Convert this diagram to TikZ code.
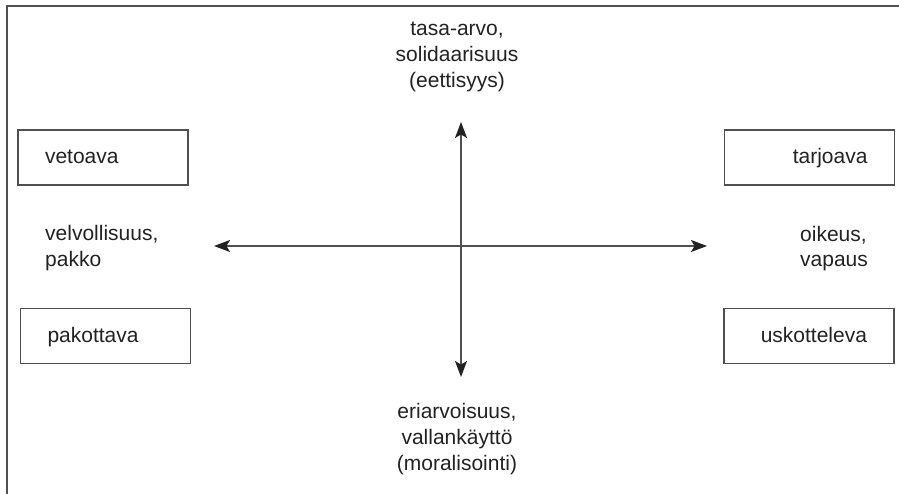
\documentclass[tikz,border=0pt]{standalone}
\usepackage{fontspec}
\setmainfont{Liberation Sans}
\usetikzlibrary{arrows.meta}
\definecolor{linegray}{HTML}{505050}
\definecolor{inkgray}{HTML}{222222}
\begin{document}
\begin{tikzpicture}[x=1pt,y=-1pt,
  every node/.style={font=\fontsize{21}{25}\selectfont, text=inkgray},
  stylebox/.style={draw=linegray, line width=1.3pt, minimum height=55pt,
    text width=116pt, inner xsep=27pt, inner ysep=0pt,
    text height=15pt, text depth=3pt},
  axis/.style={draw=linegray, line width=1.3pt,
    {Stealth[length=16pt,width=12pt,inset=3.5pt,color=inkgray]}-{Stealth[length=16pt,width=12pt,inset=3.5pt,color=inkgray]}},
  pole/.style={align=center, inner sep=0pt, font=\fontsize{21}{26}\selectfont},
  side/.style={align=left, inner sep=0pt, font=\fontsize{21}{25}\selectfont}]
  \useasboundingbox (0,0) rectangle (899,494);
  % outer frame
  \draw[linegray, line width=1.5pt] (7,494) -- (7,6) -- (899,6);

  % four persuasion styles
  \node[stylebox, align=left]  (veto)  at (103,157.5) {vetoava};
  \node[stylebox, align=right] (tarj)  at (809.5,157.5) {tarjoava};
  \node[stylebox, align=left]  (pako)  at (105.5,336) {pakottava};
  \node[stylebox, align=right] (usko)  at (809,336) {uskotteleva};

  % axis labels (base anchor sits on the last line)
  \node[pole, anchor=base] (top) at (457,88) {tasa-arvo,\\solidaarisuus\\(eettisyys)};
  \node[pole, anchor=base] (bottom) at (457,470) {eriarvoisuus,\\vallankäyttö\\(moralisointi)};
  \node[side, anchor=base west] (left) at (45,266) {velvollisuus,\\pakko};
  \node[side, anchor=base west] (right) at (800,267) {oikeus,\\vapaus};

  % axis ends
  \coordinate (w) at (214,246);
  \coordinate (e) at (707,246);
  \coordinate (n) at (461,122);
  \coordinate (s) at (461,377);
  \draw[axis] (w) -- (e);
  \draw[axis] (n) -- (s);
\end{tikzpicture}
\end{document}
